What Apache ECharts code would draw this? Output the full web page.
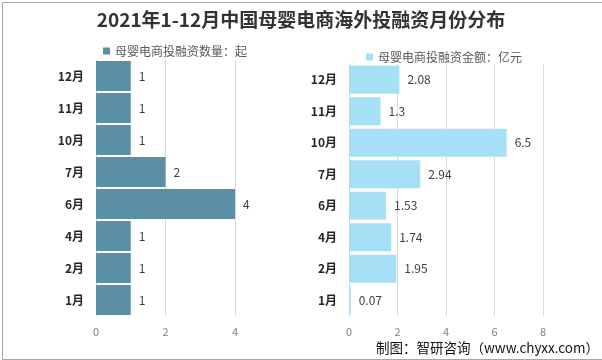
<!DOCTYPE html>
<html><head><meta charset="utf-8">
<script src="https://cdn.jsdelivr.net/npm/echarts@6/dist/echarts.min.js"></script>
<style>html,body{margin:0;padding:0;background:#fff}#c{width:602px;height:360px}</style>
</head><body><div id="c"></div>
<script>
const titleText = '2021年1-12月中国母婴电商海外投融资月份分布';
const categories = ['1月','2月','4月','6月','7月','10月','11月','12月'];
const counts = [1,1,1,4,2,1,1,1];
const amounts = [0.07,1.95,1.74,1.53,2.94,6.5,1.3,2.08];
const countName = '母婴电商投融资数量：起';
const amountName = '母婴电商投融资金额：亿元';
const sourceText = '制图：智研咨询（www.chyxx.com）';

const FONT = '"Noto Sans CJK SC","Microsoft YaHei",sans-serif';
const chart = echarts.init(document.getElementById('c'), null, {renderer:'canvas'});
const catAxis = (gi) => ({
  type:'category', gridIndex:gi, data:categories,
  axisLine:{show:true, lineStyle:{color:'#d9d9d9'}}, axisTick:{show:false},
  axisLabel:{color:'#262626', fontSize:12, fontWeight:'bold', fontFamily:FONT, margin:12}
});
const valAxis = (gi, max, interval) => ({
  type:'value', gridIndex:gi, min:0, max:max, interval:interval,
  axisLine:{show:false}, axisTick:{show:false},
  splitLine:{show:true, lineStyle:{color:'#d9d9d9'}},
  axisLabel:{color:'#7f7f7f', fontSize:11, fontFamily:FONT, margin:10}
});
chart.setOption({
  backgroundColor:'#fff',
  textStyle:{fontFamily:FONT},
  title:{text:titleText, left:'center', top:5,
    textStyle:{fontSize:19, fontWeight:'bold', color:'#333', fontFamily:FONT}},
  legend:[
    {data:[countName], left:98, top:40, itemWidth:7, itemHeight:7, icon:'rect', itemGap:4,
     textStyle:{color:'#595959', fontSize:12, fontFamily:FONT}},
    {data:[amountName], left:361, top:46, itemWidth:7, itemHeight:7, icon:'rect',
     textStyle:{color:'#595959', fontSize:12, fontFamily:FONT}}
  ],
  grid:[
    {left:96, width:139, top:60, height:256, containLabel:false},
    {left:349, width:194, top:64, height:252, containLabel:false}
  ],
  xAxis:[valAxis(0,4,2), valAxis(1,8,2)],
  yAxis:[catAxis(0), catAxis(1)],
  series:[
    {name:countName, type:'bar', xAxisIndex:0, yAxisIndex:0, data:counts,
     barCategoryGap:'7%', itemStyle:{color:'#5B8FA6'},
     label:{show:true, position:'right', distance:8, color:'#404040', fontSize:12, fontFamily:FONT}},
    {name:amountName, type:'bar', xAxisIndex:1, yAxisIndex:1, data:amounts,
     barCategoryGap:'11%', itemStyle:{color:'#A6E0F7'},
     label:{show:true, position:'right', distance:8, color:'#404040', fontSize:12, fontFamily:FONT}}
  ],
  graphic:[
    {type:'rect', left:0, top:0, shape:{x:0.5, y:0.5, width:600, height:357},
     style:{fill:'none', stroke:'#a6a6a6', lineWidth:1}, silent:true, z:-1},
    {type:'text', right:3, top:341, style:{text:sourceText, fill:'#111', fontSize:13.5, fontFamily:FONT}}
  ]
});
</script></body></html>
